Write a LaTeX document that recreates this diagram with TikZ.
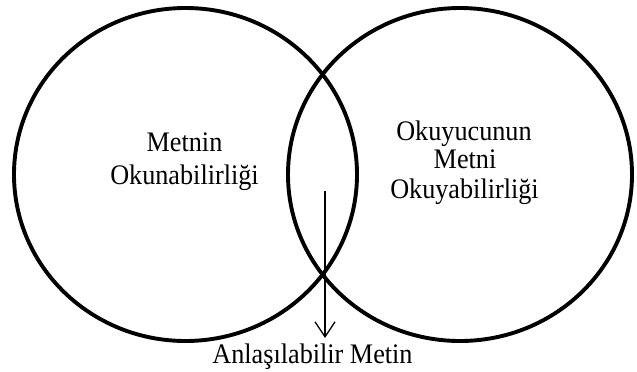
\documentclass[tikz,border=0pt]{standalone}
\usepackage{fontspec}
\setmainfont{Liberation Serif}
\usetikzlibrary{arrows.meta,shapes.geometric}
\tikzset{
  ring/.style={draw=black, line width=3.9pt, ellipse, inner sep=0pt, outer sep=0pt},
  lbl/.style={anchor=base, inner sep=0pt, font=\fontsize{26.2}{30}\selectfont},
  arr/.style={line width=1.3pt, -{Straight Barb[length=15pt,width=20pt,line width=1.3pt]}}
}
\newcommand{\tallt}[1]{\scalebox{1}[1.08]{#1}}
\begin{document}
\begin{tikzpicture}[x=1pt,y=-1pt]
\useasboundingbox (0,0) rectangle (637,372);
\node[ring, minimum width=343pt, minimum height=333pt] (L) at (185.5,174.5) {};
\node[ring, minimum width=344pt, minimum height=333pt] (R) at (460,174.5) {};
\node[lbl] (l1) at (184.5,151) {\tallt{Metnin}};
\node[lbl] (l2) at (184.5,184) {\tallt{Okunabilirliği}};
\node[lbl] (r1) at (464,140) {\tallt{Okuyucunun}};
\node[lbl] (r2) at (465,168.5) {\tallt{Metni}};
\node[lbl] (r3) at (464.5,198) {\tallt{Okuyabilirliği}};
\node[lbl] (b) at (312.5,363) {\tallt{Anlaşılabilir Metin}};
\coordinate (a1) at (325,191);
\coordinate (a2) at (325,338);
\draw[arr] (a1) -- (a2);
\end{tikzpicture}
\end{document}
